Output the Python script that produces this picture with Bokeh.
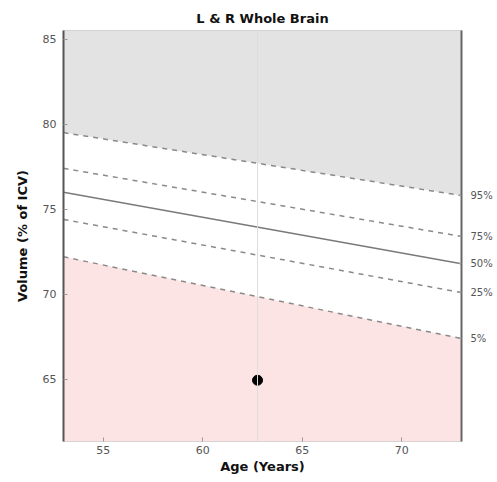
from bokeh.plotting import figure
from bokeh.models import Range1d, Span, LinearAxis, FixedTicker
from bokeh.embed import file_html
from bokeh.resources import INLINE

ages = [53, 73]
p95 = [79.5, 75.8]
p75 = [77.4, 73.4]
p50 = [76.0, 71.8]
p25 = [74.4, 70.1]
p5 = [72.2, 67.4]
pct_labels = ["95%", "75%", "50%", "25%", "5%"]
subject_age = [62.75]
subject_vol = [64.95]

x_lo, x_hi = 53.0, 73.0
y_lo, y_hi = 61.35, 85.5

p = figure(width=497, height=482, output_backend="svg", toolbar_location=None,
           x_range=Range1d(x_lo, x_hi), y_range=Range1d(y_lo, y_hi),
           title="L & R Whole Brain",
           min_border_left=63, min_border_right=36, min_border_bottom=41, min_border_top=30)
p.title.align = "center"
p.title.text_font = "DejaVu Sans"
p.title.text_font_size = "13px"
p.title.text_font_style = "bold"
p.title.text_color = "#111111"

p.grid.visible = False
p.outline_line_color = "#cccccc"
p.background_fill_color = "white"

# shaded regions
p.varea(x=ages, y1=p95, y2=[y_hi, y_hi], fill_color="#e3e3e3")
p.varea(x=ages, y1=[y_lo, y_lo], y2=p5, fill_color="#fde4e4")

dash_color = "#8a8a8a"
for vals in (p95, p75, p25, p5):
    p.line(ages, vals, line_color=dash_color, line_width=1.5, line_dash="5 5")
p.line(ages, p50, line_color="#7a7a7a", line_width=1.5)

p.add_layout(Span(location=subject_age[0], dimension="height",
                  line_color="#dddddd", line_width=1))
p.scatter(subject_age, subject_vol, size=10, color="black")

for ax in (p.xaxis[0], p.yaxis[0]):
    ax.major_tick_in = 4
    ax.major_tick_out = 0
    ax.minor_tick_line_color = None
    ax.major_label_text_font = "DejaVu Sans"
    ax.major_label_text_font_size = "11px"
    ax.major_label_text_color = "#555555"
    ax.axis_label_text_font = "DejaVu Sans"
    ax.axis_label_text_font_size = "13px"
    ax.axis_label_text_font_style = "bold"
    ax.axis_label_text_color = "#111111"
    ax.major_tick_line_color = "#999999"

p.xaxis.axis_label = "Age (Years)"
p.yaxis.axis_label = "Volume (% of ICV)"
p.xaxis.ticker = FixedTicker(ticks=[55, 60, 65, 70])
p.yaxis.ticker = FixedTicker(ticks=[65, 70, 75, 80, 85])
p.xaxis.axis_line_color = None
p.xaxis.axis_label_standoff = 2
p.xaxis.major_label_standoff = 4
p.yaxis.axis_line_color = "#555555"
p.yaxis.axis_line_width = 2
p.yaxis.major_label_standoff = 7
p.yaxis.axis_label_standoff = 10

ends = [p95[-1], p75[-1], p50[-1], p25[-1], p5[-1]]
rax = LinearAxis(ticker=FixedTicker(ticks=ends),
                 major_label_overrides={v: l for v, l in zip(ends, pct_labels)})
rax.axis_line_color = "#666666"
rax.axis_line_width = 2
rax.major_tick_in = 3
rax.major_tick_out = 0
rax.major_tick_line_color = "#999999"
rax.minor_tick_line_color = None
rax.major_label_text_font = "DejaVu Sans"
rax.major_label_text_font_size = "10px"
rax.major_label_text_color = "#555555"
rax.major_label_standoff = 9
p.add_layout(rax, "right")

open("out.html", "w").write(file_html(p, INLINE))
